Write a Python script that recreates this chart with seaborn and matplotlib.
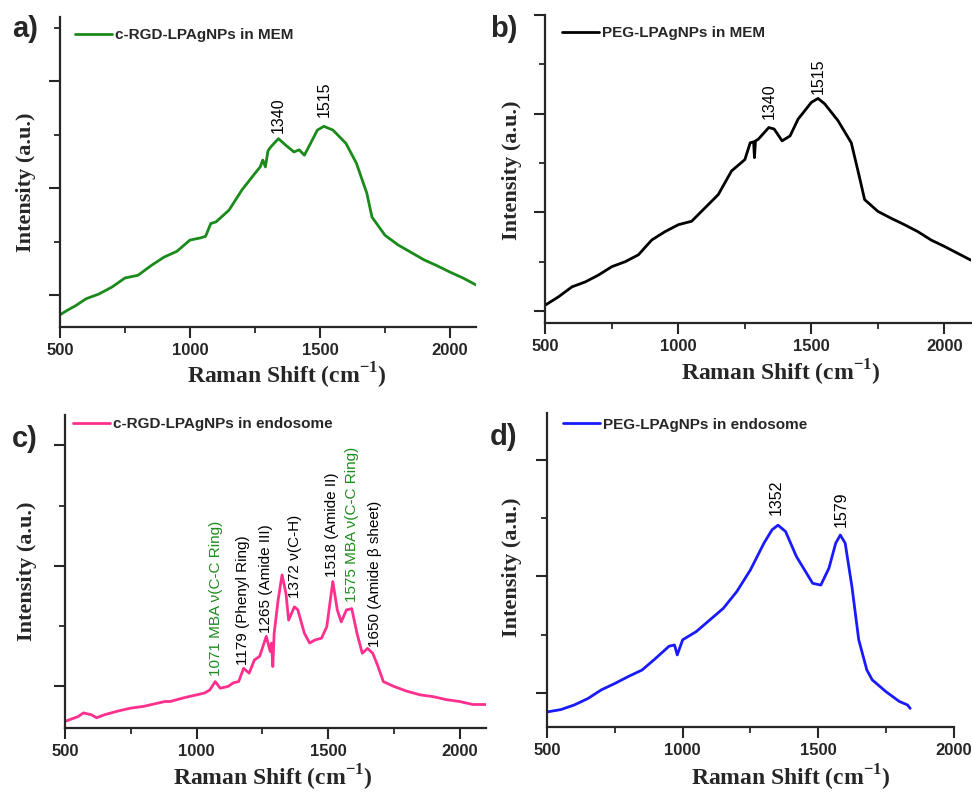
import pandas as pd
import matplotlib.pyplot as plt
import seaborn as sns

# ---- data (shift in cm-1, intensity in arbitrary units) ----
shift_a = [500, 530, 560, 600, 650, 700, 750, 800, 850, 900, 950, 1000, 1040, 1060, 1080, 1100, 1150,
           1200, 1250, 1270, 1280, 1290, 1300, 1310, 1340, 1370, 1400, 1420, 1440, 1470, 1490, 1515,
           1550, 1600, 1640, 1680, 1700, 1750, 1800, 1850, 1900, 1950, 2000, 2050, 2100]
int_a = [0.63, 0.72, 0.80, 0.93, 1.02, 1.15, 1.32, 1.37, 1.55, 1.71, 1.82, 2.03, 2.07, 2.10, 2.34, 2.37,
         2.59, 2.97, 3.28, 3.40, 3.53, 3.40, 3.70, 3.77, 3.93, 3.80, 3.68, 3.72, 3.62, 3.90, 4.09, 4.16,
         4.09, 3.84, 3.47, 2.91, 2.46, 2.12, 1.94, 1.80, 1.66, 1.55, 1.43, 1.32, 1.19]

shift_b = [500, 550, 600, 650, 700, 750, 800, 850, 900, 950, 1000, 1050, 1100, 1150, 1200, 1250,
           1270, 1283, 1286, 1290, 1300, 1340, 1360, 1390, 1420, 1450, 1500, 1525, 1550, 1600,
           1650, 1680, 1700, 1750, 1800, 1850, 1900, 1950, 2000, 2050, 2100]
int_b = [1.12, 1.29, 1.49, 1.59, 1.73, 1.90, 2.0, 2.14, 2.44, 2.61, 2.75, 2.82, 3.09, 3.36, 3.84, 4.07,
         4.41, 4.43, 4.11, 4.45, 4.48, 4.72, 4.69, 4.45, 4.55, 4.89, 5.23, 5.31, 5.20, 4.86,
         4.41, 3.73, 3.26, 3.02, 2.88, 2.75, 2.61, 2.44, 2.31, 2.17, 2.03]

shift_c = [500, 550, 570, 600, 620, 650, 700, 750, 800, 850, 880, 900, 950, 1000, 1030, 1050, 1071,
           1090, 1120, 1140, 1160, 1179, 1200, 1220, 1240, 1265, 1280, 1285, 1290, 1295, 1310,
           1325, 1340, 1350, 1372, 1385, 1410, 1430, 1450, 1475, 1495, 1518, 1535, 1550, 1570,
           1590, 1610, 1630, 1650, 1670, 1690, 1710, 1750, 1800, 1850, 1900, 1950, 2000, 2050, 2100]
int_c = [0.42, 0.50, 0.56, 0.53, 0.48, 0.53, 0.59, 0.64, 0.67, 0.72, 0.75, 0.75, 0.81, 0.86, 0.89, 0.94, 1.08,
         0.97, 1.0, 1.06, 1.08, 1.30, 1.22, 1.44, 1.50, 1.83, 1.58, 1.72, 1.33, 1.88, 2.43,
         2.85, 2.54, 2.10, 2.32, 2.27, 1.88, 1.72, 1.77, 1.80, 1.99, 2.74, 2.27, 2.07, 2.27,
         2.29, 1.88, 1.55, 1.63, 1.55, 1.33, 1.08, 1.0, 0.92, 0.86, 0.83, 0.78, 0.75, 0.70, 0.70]

shift_d = [500, 550, 600, 650, 700, 750, 800, 850, 900, 950, 970, 980, 1000, 1050, 1100, 1150, 1200,
           1250, 1300, 1330, 1352, 1380, 1420, 1450, 1480, 1510, 1540, 1565, 1582, 1600, 1625,
           1650, 1680, 1700, 1750, 1800, 1830, 1840]
int_d = [0.67, 0.71, 0.79, 0.90, 1.05, 1.16, 1.28, 1.39, 1.59, 1.80, 1.82, 1.65, 1.91, 2.05, 2.25, 2.45, 2.74,
         3.11, 3.57, 3.80, 3.88, 3.77, 3.34, 3.11, 2.88, 2.85, 3.14, 3.57, 3.71, 3.57, 2.82,
         1.91, 1.39, 1.22, 1.02, 0.85, 0.79, 0.73]

names = ["c-RGD-LPAgNPs in MEM", "PEG-LPAgNPs in MEM",
         "c-RGD-LPAgNPs in endosome", "PEG-LPAgNPs in endosome"]
colors = ["#1a8a1a", "#000000", "#ff2f8e", "#1a1aff"]

# peak labels: (shift, y, text, colour)
peaks_a = [(1340, 4.03, "1340", "k"), (1515, 4.33, "1515", "k")]
peaks_b = [(1340, 4.89, "1340", "k"), (1525, 5.40, "1515", "k")]
peaks_c = [(1075, 1.17, "1071 MBA ν(C-C Ring)", "#1e8c1e"),
           (1175, 1.36, "1179 (Phenyl Ring)", "k"),
           (1264, 1.88, "1265 (Amide III)", "k"),
           (1376, 2.46, "1372 ν(C-H)", "k"),
           (1515, 2.82, "1518 (Amide II)", "k"),
           (1591, 2.40, "1575 MBA ν(C-C Ring)", "#1e8c1e"),
           (1680, 1.66, "1650 (Amide β sheet)", "k")]
peaks_d = [(1345, 4.05, "1352", "k"), (1584, 3.85, "1579", "k")]

sns.set_style("ticks")
plt.rcParams["font.family"] = ["Liberation Sans", "DejaVu Sans"]
plt.rcParams["mathtext.fontset"] = "custom"
plt.rcParams["mathtext.rm"] = "Liberation Serif:bold"
plt.rcParams["mathtext.bf"] = "Liberation Serif:bold"

fig = plt.figure(figsize=(9.72, 7.92), dpi=100)

panels = [
    dict(rect=[0.0617, 0.587, 0.428, 0.391], x=shift_a, y=int_a, xlim=(500, 2100), ylim=(0.4, 6.2),
         ymaj=[1, 3, 5], ymin=[2, 4, 6], peaks=peaks_a, pk_size=11.5, leg=(0.036, 0.965),
         ylab=(-0.058, 0.468), xlab=(0.546, -0.181), tag="a)", tagpos=(12, 15)),
    dict(rect=[0.561, 0.592, 0.438, 0.389], x=shift_b, y=int_b, xlim=(500, 2100), ylim=(0.755, 7.0),
         ymaj=[1, 3, 5, 7], ymin=[2, 4, 6], peaks=peaks_b, pk_size=11.5, leg=(0.040, 0.964),
         ylab=(-0.054, 0.497), xlab=(0.554, -0.185), tag="b)", tagpos=(490, 15)),
    dict(rect=[0.0669, 0.0808, 0.433, 0.395], x=shift_c, y=int_c, xlim=(500, 2100), ylim=(0.31, 5.5),
         ymaj=[1, 3, 5], ymin=[2, 4], peaks=peaks_c, pk_size=11, leg=(0.019, 0.994),
         ylab=(-0.0665, 0.50), xlab=(0.494, -0.185), tag="c)", tagpos=(12, 425)),
    dict(rect=[0.563, 0.082, 0.418, 0.396], x=shift_d, y=int_d, xlim=(500, 2000), ylim=(0.41, 5.8),
         ymaj=[1, 3, 5], ymin=[2, 4], peaks=peaks_d, pk_size=11.5, leg=(0.039, 0.987),
         ylab=(-0.062, 0.51), xlab=(0.599, -0.188), tag="d)", tagpos=(490, 423)),
]

for p, name, col in zip(panels, names, colors):
    ax = fig.add_axes(p["rect"])
    df = pd.DataFrame({"Shift": p["x"], "Intensity": p["y"]})
    sns.lineplot(data=df, x="Shift", y="Intensity", color=col, linewidth=2.0,
                 sort=False, estimator=None, label=name, ax=ax)
    ax.set_xlim(*p["xlim"])
    ax.set_ylim(*p["ylim"])
    ax.set_xticks([500, 1000, 1500, 2000])
    ax.set_xticks([750, 1250, 1750], minor=True)
    ax.set_yticks(p["ymaj"])
    ax.set_yticks(p["ymin"], minor=True)
    ax.set_yticklabels([])
    for lab in ax.get_xticklabels():
        lab.set_fontweight("bold")
        lab.set_fontsize(12)
    ax.tick_params(which="major", length=8, width=1.5, direction="out")
    ax.tick_params(which="minor", length=4, width=1.3, direction="out")
    for s in ["top", "right"]:
        ax.spines[s].set_visible(False)
    for s in ["left", "bottom"]:
        ax.spines[s].set_linewidth(1.6)

    ax.set_xlabel("Raman Shift (cm$^{-1}$)", family="Liberation Serif", fontweight="bold", fontsize=17)
    ax.set_ylabel("Intensity (a.u.)", family="Liberation Serif", fontweight="bold", fontsize=16)
    ax.xaxis.set_label_coords(*p["xlab"])
    ax.xaxis.label.set_va("baseline")
    ax.yaxis.set_label_coords(*p["ylab"])

    ax.legend(loc="upper left", bbox_to_anchor=p["leg"], frameon=False, borderpad=0,
              borderaxespad=0, handlelength=2.4, handletextpad=0.2,
              prop={"family": "Liberation Sans", "weight": "bold", "size": 11})

    for px, py, txt, tc in p["peaks"]:
        ax.text(px, py, txt, rotation=90, ha="center", va="bottom", color=tc,
                fontsize=p["pk_size"])

    fig.text(p["tagpos"][0] / 972, 1 - p["tagpos"][1] / 792, p["tag"], ha="left", va="top",
             fontsize=21, fontweight="bold")

fig.savefig("out.png", dpi=100)
